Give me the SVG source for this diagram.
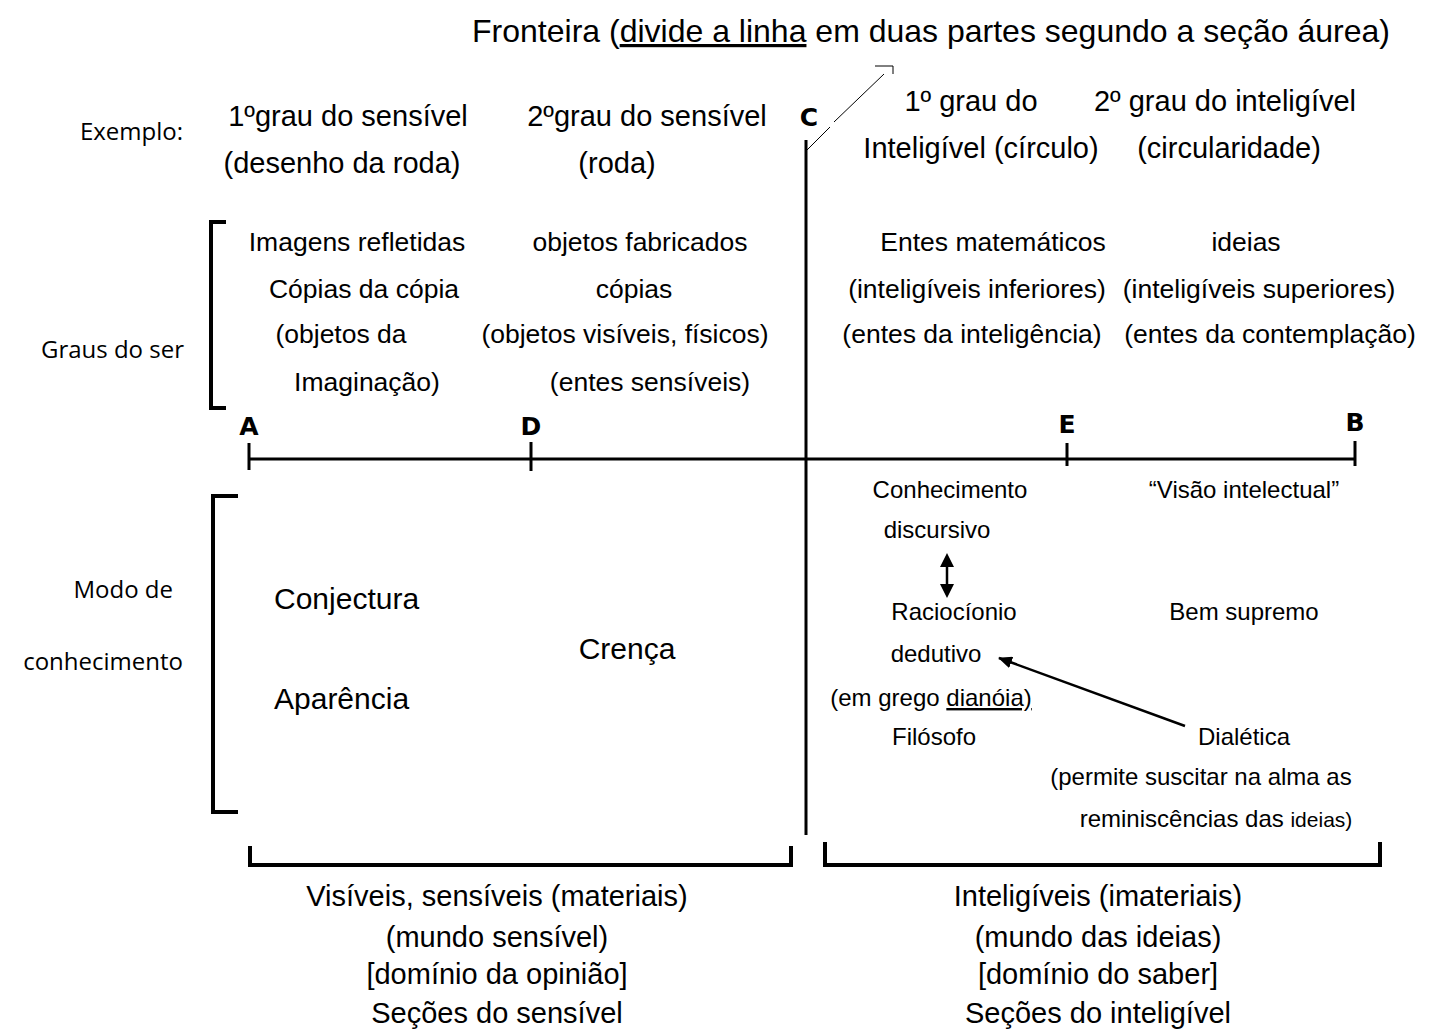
<svg xmlns="http://www.w3.org/2000/svg" width="1434" height="1030" viewBox="0 0 1434 1030">
<style>
text{font-family:"Liberation Sans",Arial,sans-serif;fill:#000;text-anchor:middle}
.t32{font-size:32px}
.t29{font-size:29px}
.t30{font-size:30px}
.t26{font-size:26.5px}
.t24{font-size:24px}
.s{text-anchor:start}
.c{font-family:"Open Sans","Noto Sans",sans-serif;font-size:24px;text-anchor:end}
.lbl{font-family:"DejaVu Sans",sans-serif;font-size:25px;font-weight:bold}
.ln{stroke:#000;stroke-width:3;fill:none}
.br{stroke:#000;stroke-width:4;fill:none}
</style>
<defs>
<marker id="ah" markerWidth="14" markerHeight="12" refX="13" refY="6" orient="auto" markerUnits="userSpaceOnUse" viewBox="0 0 14 12">
<path d="M0,0 L14,6 L0,12 z" fill="#000"/>
</marker>
</defs>
<rect width="1434" height="1030" fill="#fff"/>

<g id="title">
<text class="t32" x="931" y="42">Fronteira (<tspan text-decoration="underline">divide a linha</tspan> em duas partes segundo a seção áurea)</text>
</g>

<g id="connectors">
<line class="ln" x1="249" y1="459" x2="1355" y2="459"/>
<line class="ln" x1="249" y1="443" x2="249" y2="470"/>
<line class="ln" x1="531" y1="442" x2="531" y2="471"/>
<line class="ln" x1="1067" y1="443" x2="1067" y2="466"/>
<line class="ln" x1="1355" y1="441" x2="1355" y2="466"/>
<line class="ln" x1="806" y1="140" x2="806" y2="835"/>
<line x1="807" y1="150" x2="830" y2="127" stroke="#000" stroke-width="1"/>
<line x1="834" y1="122" x2="884" y2="74" stroke="#000" stroke-width="1"/>
<polyline points="875,66 893,66 893,74" stroke="#000" stroke-width="1" fill="none"/>
<polyline class="br" points="226,222 211,222 211,408 226,408"/>
<polyline class="br" points="238,496 213,496 213,812 238,812"/>
<polyline class="br" points="250,846 250,865 791,865 791,846"/>
<polyline class="br" points="825,842 825,865 1380,865 1380,842"/>
<line x1="947" y1="564" x2="947" y2="586" stroke="#000" stroke-width="2.5"/>
<path d="M940,567 L947,553 L954,567 z M940,584 L947,598 L954,584 z" fill="#000"/>
<line x1="1185" y1="726" x2="999" y2="658" stroke="#000" stroke-width="2.5" marker-end="url(#ah)"/>
</g>

<g id="points">
<text class="lbl" x="249" y="435">A</text>
<text class="lbl" x="531" y="435">D</text>
<text class="lbl" x="1067" y="433">E</text>
<text class="lbl" x="1355" y="431">B</text>
<text class="lbl" x="809" y="126">C</text>
</g>

<g id="row-labels">
<text class="c" x="183" y="140">Exemplo:</text>
<text class="c" x="184" y="358">Graus do ser</text>
<text class="c" x="173" y="598">Modo de</text>
<text class="c" x="183" y="670">conhecimento</text>
</g>

<g id="example">
<text class="t29" x="348" y="126">1ºgrau do sensível</text>
<text class="t29" x="342" y="173">(desenho da roda)</text>
<text class="t29" x="647" y="126">2ºgrau do sensível</text>
<text class="t29" x="617" y="173">(roda)</text>
<text class="t29" x="971" y="111">1º grau do</text>
<text class="t29" x="981" y="158">Inteligível (círculo)</text>
<text class="t29" x="1225" y="111">2º grau do inteligível</text>
<text class="t29" x="1229" y="158">(circularidade)</text>
</g>

<g id="graus">
<text class="t26" x="357" y="251">Imagens refletidas</text>
<text class="t26" x="364" y="298">Cópias da cópia</text>
<text class="t26" x="341" y="343">(objetos da</text>
<text class="t26" x="367" y="391">Imaginação)</text>
<text class="t26" x="640" y="251">objetos fabricados</text>
<text class="t26" x="634" y="298">cópias</text>
<text class="t26" x="625" y="343">(objetos visíveis, físicos)</text>
<text class="t26" x="650" y="391">(entes sensíveis)</text>
<text class="t26" x="993" y="251">Entes matemáticos</text>
<text class="t26" x="977" y="298">(inteligíveis inferiores)</text>
<text class="t26" x="972" y="343">(entes da inteligência)</text>
<text class="t26" x="1246" y="251">ideias</text>
<text class="t26" x="1259" y="298">(inteligíveis superiores)</text>
<text class="t26" x="1270" y="343">(entes da contemplação)</text>
</g>

<g id="modo">
<text class="t30 s" x="274" y="609">Conjectura</text>
<text class="t30 s" x="274" y="709">Aparência</text>
<text class="t30" x="627" y="659">Crença</text>
<text class="t24" x="950" y="498">Conhecimento</text>
<text class="t24" x="937" y="538">discursivo</text>
<text class="t24" x="954" y="620">Raciocíonio</text>
<text class="t24" x="936" y="662">dedutivo</text>
<text class="t24" x="931" y="706">(em grego <tspan text-decoration="underline">dianóia)</tspan></text>
<text class="t24" x="934" y="745">Filósofo</text>
<text class="t24" x="1244" y="498">“Visão intelectual”</text>
<text class="t24" x="1244" y="620">Bem supremo</text>
<text class="t24" x="1244" y="745">Dialética</text>
<text class="t24" x="1201" y="785">(permite suscitar na alma as</text>
<text class="t24" x="1216" y="827">reminiscências das <tspan font-size="21">ideias)</tspan></text>
</g>

<g id="sensivel">
<text class="t29" x="497" y="906">Visíveis, sensíveis (materiais)</text>
<text class="t29" x="497" y="947">(mundo sensível)</text>
<text class="t29" x="497" y="984">[domínio da opinião]</text>
<text class="t29" x="497" y="1023">Seções do sensível</text>
</g>

<g id="inteligivel">
<text class="t29" x="1098" y="906">Inteligíveis (imateriais)</text>
<text class="t29" x="1098" y="947">(mundo das ideias)</text>
<text class="t29" x="1098" y="984">[domínio do saber]</text>
<text class="t29" x="1098" y="1023">Seções do inteligível</text>
</g>
</svg>
